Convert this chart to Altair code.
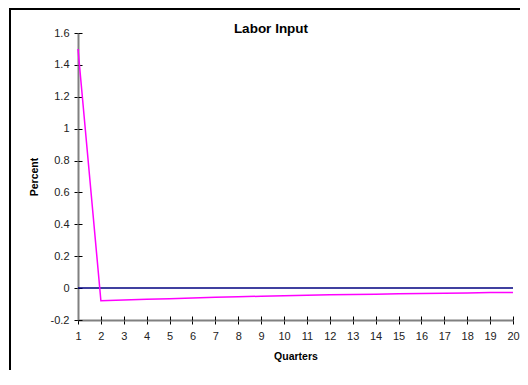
import altair as alt
import pandas as pd

quarters = list(range(1, 21))
labor = [1.50, -0.079, -0.075, -0.070, -0.066, -0.062, -0.058, -0.054, -0.051, -0.048,
         -0.045, -0.042, -0.040, -0.038, -0.036, -0.034, -0.032, -0.030, -0.028, -0.027]
zero_line = [0.0] * 20
y_ticks = [-0.2, 0, 0.2, 0.4, 0.6, 0.8, 1.0, 1.2, 1.4, 1.6]

df = pd.DataFrame({"Quarter": quarters, "Labor": labor, "Zero": zero_line})

W, H = 435, 287
FONT = "Liberation Sans"

xscale = alt.Scale(domain=[1, 20], nice=False, zero=False)
yscale = alt.Scale(domain=[-0.2, 1.6], nice=False, zero=False)

xaxis = alt.Axis(orient="bottom", values=quarters, title="Quarters", titleFont=FONT, titleFontSize=10.5,
                 titleFontWeight="bold", titleColor="black", titlePadding=10,
                 labelFont=FONT, labelFontSize=11, labelColor="#222222", labelPadding=6,
                 domainColor="#808080", domainWidth=2, tickColor="black", tickSize=4,
                 tickWidth=1, grid=False, labelFlush=False)
yaxis = alt.Axis(orient="left", values=y_ticks, title="Percent", titleFont=FONT, titleFontSize=10.5,
                 titleFontWeight="bold", titleColor="black", titlePadding=11,
                 labelFont=FONT, labelFontSize=11, labelColor="#222222", labelPadding=5,
                 labelExpr="toString(round(datum.value*10)/10)",
                 domainColor="#808080", domainWidth=2, tickColor="black", tickSize=4,
                 tickWidth=1, grid=False, labelFlush=False)

# inner half of the crossing ticks
xaxis_in = alt.Axis(orient="bottom", values=quarters, title=None, labels=False, domain=False, offset=-4,
                    tickColor="black", tickSize=4, tickWidth=1, grid=False)
yaxis_in = alt.Axis(orient="left", values=y_ticks, title=None, labels=False, domain=False, offset=-4,
                    tickColor="black", tickSize=4, tickWidth=1, grid=False)

base = alt.Chart(df)

zero = base.mark_line(color="#000080", strokeWidth=1.5).encode(
    x=alt.X("Quarter:Q", scale=xscale, axis=xaxis),
    y=alt.Y("Zero:Q", scale=yscale, axis=yaxis),
)

ticks_in = base.mark_line(opacity=0).encode(
    x=alt.X("Quarter:Q", scale=xscale, axis=xaxis_in),
    y=alt.Y("Zero:Q", scale=yscale, axis=yaxis_in),
)

line = base.mark_line(color="#FF00FF", strokeWidth=1.5).encode(
    x=alt.X("Quarter:Q", scale=xscale, axis=None),
    y=alt.Y("Labor:Q", scale=yscale, axis=None),
)

frame = pd.DataFrame({"a": [0]})
border_left = alt.Chart(frame).mark_rule(color="black", strokeWidth=2).encode(
    x=alt.value(-68), y=alt.value(-24), y2=alt.value(340)
)
border_top = alt.Chart(frame).mark_rule(color="black", strokeWidth=2).encode(
    x=alt.value(-69), x2=alt.value(442), y=alt.value(-24)
)

title_txt = alt.Chart(pd.DataFrame({"t": ["Labor Input"]})).mark_text(
    font=FONT, fontSize=13.5, fontWeight="bold", color="black", baseline="alphabetic"
).encode(
    text="t:N", x=alt.value(193), y=alt.value(0)
)

chart = alt.layer(border_left, border_top, zero, ticks_in, line, title_txt).resolve_axis(
    x="independent", y="independent"
).properties(
    width=W, height=H,
    autosize=alt.AutoSizeParams(type="none"),
    padding={"left": 70, "top": 25, "right": 7, "bottom": 50},
).configure_view(stroke=None)

chart.save("out.html", embed_options={"renderer": "svg", "actions": False})
